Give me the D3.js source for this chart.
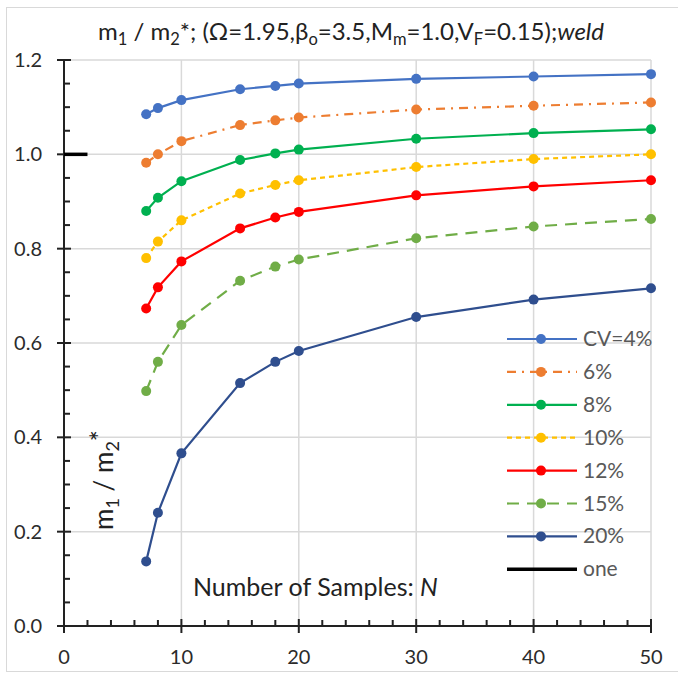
<!DOCTYPE html>
<html>
<head>
<meta charset="utf-8">
<script src="https://cdn.jsdelivr.net/npm/d3@7"></script>
<style>
  body { margin: 0; background: #fff; }
  svg text { font-family: Lato, "Open Sans", sans-serif; }
</style>
</head>
<body>
<div id="chart"></div>
<script>
// DATA
const sampleN = [7, 8, 10, 15, 18, 20, 30, 40, 50];
const cv4  = [1.085, 1.098, 1.115, 1.138, 1.145, 1.150, 1.160, 1.165, 1.170];
const cv6  = [0.982, 1.000, 1.028, 1.062, 1.072, 1.078, 1.095, 1.103, 1.110];
const cv8  = [0.880, 0.908, 0.943, 0.988, 1.002, 1.010, 1.033, 1.045, 1.053];
const cv10 = [0.780, 0.815, 0.860, 0.917, 0.935, 0.945, 0.973, 0.990, 1.000];
const cv12 = [0.673, 0.718, 0.773, 0.843, 0.866, 0.878, 0.913, 0.932, 0.945];
const cv15 = [0.498, 0.560, 0.638, 0.732, 0.762, 0.777, 0.822, 0.847, 0.863];
const cv20 = [0.137, 0.240, 0.366, 0.515, 0.560, 0.583, 0.655, 0.692, 0.716];
const oneX = [0, 2];
const oneY = [1.0, 1.0];
const seriesNames = ["CV=4%", "6%", "8%", "10%", "12%", "15%", "20%"];
const xTicks = [0, 10, 20, 30, 40, 50];
const yTicks = [0, 0.2, 0.4, 0.6, 0.8, 1.0, 1.2];

// STYLE PER SERIES
const seriesStyle = [
  {color: "#4472C4", dash: null},
  {color: "#ED7D31", dash: "9,6,2,6"},
  {color: "#00B050", dash: null},
  {color: "#FFC000", dash: "5,4"},
  {color: "#FF0000", dash: null},
  {color: "#70AD47", dash: "12,8"},
  {color: "#2F4E8E", dash: null}
];
const seriesValues = [cv4, cv6, cv8, cv10, cv12, cv15, cv20];

// DIMENSIONS
const WIDTH = 678, HEIGHT = 676;
const margin = {left: 64, right: 27, top: 60, bottom: 50};

const svg = d3.select("#chart").append("svg")
  .attr("width", WIDTH)
  .attr("height", HEIGHT);

// outer frame
svg.append("rect")
  .attr("x", 6.5).attr("y", 7.5)
  .attr("width", WIDTH - 5).attr("height", HEIGHT - 12)
  .attr("fill", "white")
  .attr("stroke", "#d9d9d9");

const x = d3.scaleLinear().domain([0, 50]).range([margin.left, WIDTH - margin.right]);
const y = d3.scaleLinear().domain([0, 1.2]).range([HEIGHT - margin.bottom, margin.top]);

// gridlines
svg.append("g")
  .selectAll("line")
  .data(xTicks.slice(1))
  .join("line")
  .attr("x1", d => x(d)).attr("x2", d => x(d))
  .attr("y1", y(0)).attr("y2", y(1.2))
  .attr("stroke", "#d9d9d9").attr("stroke-width", 1.5);

svg.append("g")
  .selectAll("line")
  .data(yTicks.slice(1))
  .join("line")
  .attr("x1", x(0)).attr("x2", x(50))
  .attr("y1", d => y(d)).attr("y2", d => y(d))
  .attr("stroke", "#d9d9d9").attr("stroke-width", 1.5);

// axes: major ticks crossing, minor ticks inside
const xMinor = d3.range(0, 51, 2).filter(d => d % 10 !== 0);
const yMinor = d3.range(0, 1.2001, 0.05).filter(d => Math.abs(d * 5 - Math.round(d * 5)) > 1e-6);

const axisG = svg.append("g").attr("stroke", "#222").attr("stroke-width", 2);
axisG.append("line")
  .attr("x1", x(0)).attr("x2", x(50))
  .attr("y1", y(0)).attr("y2", y(0));
axisG.append("line")
  .attr("x1", x(0)).attr("x2", x(0))
  .attr("y1", y(0)).attr("y2", y(1.2));

axisG.selectAll("line.xmaj").data(xTicks).join("line")
  .attr("class", "xmaj")
  .attr("x1", d => x(d)).attr("x2", d => x(d))
  .attr("y1", y(0) - 7).attr("y2", y(0) + 7);
axisG.selectAll("line.xmin").data(xMinor).join("line")
  .attr("class", "xmin")
  .attr("x1", d => x(d)).attr("x2", d => x(d))
  .attr("y1", y(0) - 6).attr("y2", y(0));
axisG.selectAll("line.ymaj").data(yTicks).join("line")
  .attr("class", "ymaj")
  .attr("x1", x(0) - 7).attr("x2", x(0) + 7)
  .attr("y1", d => y(d)).attr("y2", d => y(d));
axisG.selectAll("line.ymin").data(yMinor).join("line")
  .attr("class", "ymin")
  .attr("x1", x(0)).attr("x2", x(0) + 6)
  .attr("y1", d => y(d)).attr("y2", d => y(d));

// tick labels
svg.append("g")
  .selectAll("text")
  .data(xTicks)
  .join("text")
  .attr("x", d => x(d))
  .attr("y", y(0) + 38)
  .attr("text-anchor", "middle")
  .attr("font-size", 20)
  .attr("fill", "#2b2b2b")
  .text(d => d);

svg.append("g")
  .selectAll("text")
  .data(yTicks)
  .join("text")
  .attr("x", x(0) - 22)
  .attr("y", d => y(d) + 7)
  .attr("text-anchor", "end")
  .attr("font-size", 20)
  .attr("fill", "#2b2b2b")
  .text(d => d.toFixed(1));

// "one" reference line
svg.append("path")
  .attr("d", d3.line().x(d => x(d[0])).y(d => y(d[1]))(oneX.map((v, i) => [v, oneY[i]])))
  .attr("stroke", "#000").attr("stroke-width", 3.5).attr("fill", "none");

// series
const line = d3.line().x(d => x(d[0])).y(d => y(d[1]));
seriesValues.forEach((vals, i) => {
  const pts = sampleN.map((n, j) => [n, vals[j]]);
  const g = svg.append("g");
  g.append("path")
    .attr("d", line(pts))
    .attr("fill", "none")
    .attr("stroke", seriesStyle[i].color)
    .attr("stroke-width", 2.2)
    .attr("stroke-dasharray", seriesStyle[i].dash);
  g.selectAll("circle").data(pts).join("circle")
    .attr("cx", d => x(d[0]))
    .attr("cy", d => y(d[1]))
    .attr("r", 5)
    .attr("fill", seriesStyle[i].color);
});

// legend
const legendItems = seriesNames.map((name, i) => ({name, ...seriesStyle[i], marker: true}));
legendItems.push({name: "one", color: "#000", dash: null, marker: false});
const legend = svg.append("g");
legendItems.forEach((d, i) => {
  const ly = 339 + i * 32.9;
  legend.append("line")
    .attr("x1", 507).attr("x2", 577)
    .attr("y1", ly).attr("y2", ly)
    .attr("stroke", d.color)
    .attr("stroke-width", d.marker ? 2.2 : 3.5)
    .attr("stroke-dasharray", d.dash);
  if (d.marker) {
    legend.append("circle")
      .attr("cx", 541).attr("cy", ly).attr("r", 5)
      .attr("fill", d.color);
  }
  legend.append("text")
    .attr("x", 583).attr("y", ly + 7)
    .attr("font-size", 21)
    .attr("fill", "#595959")
    .text(d.name);
});

// title
const title = svg.append("text")
  .attr("x", 351).attr("y", 40)
  .attr("text-anchor", "middle")
  .attr("font-size", 24)
  .attr("fill", "#222");
const titleParts = [
  ["m", 0], ["1", 1], [" / m", 0], ["2", 1], ["*; (\u03A9=1.95,\u03B2", 0], ["o", 1],
  ["=3.5,M", 0], ["m", 1], ["=1.0,V", 0], ["F", 1], ["=0.15);", 0], ["weld", 2]
];
let prevSub = false;
titleParts.forEach(([t, kind]) => {
  const ts = title.append("tspan").text(t);
  if (kind === 1) ts.attr("font-size", 16.5).attr("dy", 5);
  else ts.attr("dy", prevSub ? -5 : 0);
  if (kind === 2) ts.attr("font-style", "italic");
  prevSub = kind === 1;
});

// y axis label
const yLab = svg.append("text")
  .attr("transform", `translate(${113},${480}) rotate(-90)`)
  .attr("text-anchor", "middle")
  .attr("font-size", 26)
  .attr("fill", "#222");
prevSub = false;
[["m", 0], ["1", 1], [" / m", 0], ["2", 1], ["*", 3]].forEach(([t, kind]) => {
  const ts = yLab.append("tspan").text(t);
  if (kind === 1) ts.attr("font-size", 18).attr("dy", 6);
  else if (kind === 3) ts.attr("dy", -9);
  else ts.attr("dy", prevSub ? -6 : 0);
  prevSub = kind === 1;
});

// x axis label
const xLab = svg.append("text")
  .attr("x", 193).attr("y", 596)
  .attr("font-size", 25)
  .attr("fill", "#222");
xLab.append("tspan").text("Number of Samples: ");
xLab.append("tspan").attr("font-style", "italic").text("N");
</script>
</body>
</html>
